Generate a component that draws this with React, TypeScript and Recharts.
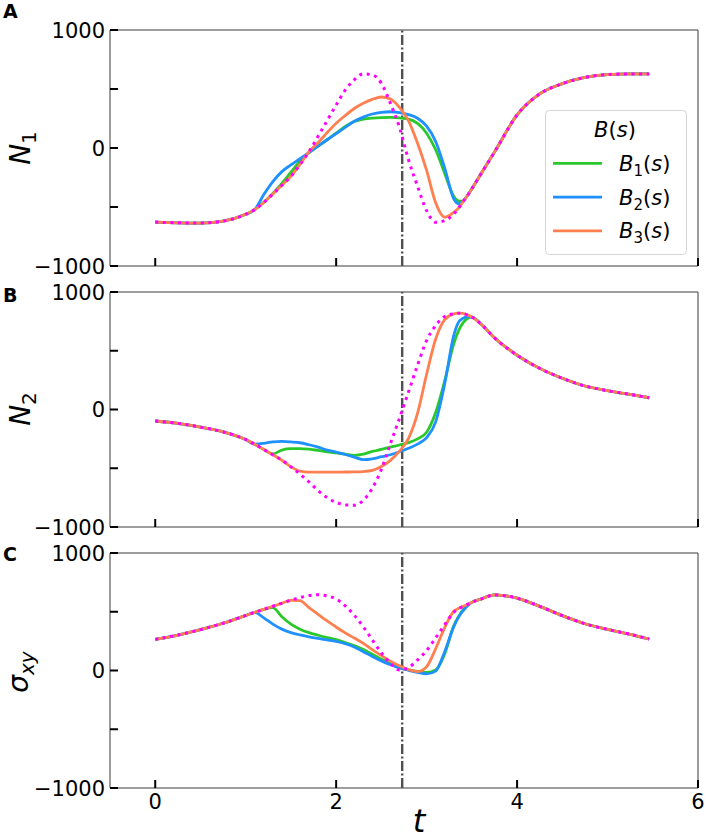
import React from 'react';
import { LineChart, Line, XAxis, YAxis, ReferenceLine, ReferenceArea, Legend } from 'recharts';

// time grid (shared by all panels)
const tGrid = [0, 0.25, 0.5, 0.75, 1.0, 1.1, 1.2, 1.3, 1.4, 1.5, 1.6, 1.7, 1.8, 1.9, 2.0, 2.1, 2.2, 2.3, 2.4, 2.5, 2.6, 2.7, 2.8, 2.9, 3.0, 3.1, 3.2, 3.3, 3.35, 3.4, 3.45, 3.5, 3.6, 3.75, 4.0, 4.25, 4.5, 4.75, 5.0, 5.25, 5.46];

// Panel A : N1
const n1Ref = [-628, -634, -636, -620, -562, -522, -462, -390, -316, -240, -140, -31, 99, 232, 365, 490, 578, 628, 620, 548, 378, 175, -100, -325, -531, -630, -615, -560, -512, -458, -405, -345, -220, -35, 280, 458, 545, 598, 622, 628, 628];
const n1B1 = [-628, -634, -636, -620, -562, -522, -460, -385, -300, -205, -112, -40, 15, 70, 125, 183, 225, 245, 254, 258, 259, 255, 245, 208, 125, -15, -215, -410, -448, -450, -405, -345, -220, -35, 280, 458, 545, 598, 622, 628, 628];
const n1B2 = [-628, -634, -636, -620, -562, -522, -395, -285, -200, -143, -91, -38, 15, 70, 122, 175, 226, 262, 288, 302, 307, 300, 283, 252, 185, 55, -170, -430, -472, -452, -405, -345, -220, -35, 280, 458, 545, 598, 622, 628, 628];
const n1B3 = [-628, -634, -636, -620, -562, -522, -462, -390, -316, -240, -140, -31, 45, 130, 210, 275, 335, 380, 412, 432, 415, 345, 230, 40, -190, -465, -587, -545, -512, -458, -405, -345, -220, -35, 280, 458, 545, 598, 622, 628, 628];

// Panel B : N2
const n2Ref = [-98, -118, -150, -190, -255, -295, -340, -385, -432, -488, -550, -617, -690, -750, -790, -812, -815, -773, -670, -510, -290, -75, 150, 378, 588, 715, 792, 815, 820, 818, 805, 787, 728, 610, 462, 350, 266, 200, 160, 128, 100];
const n2B1 = [-98, -118, -150, -190, -255, -295, -340, -378, -345, -333, -333, -338, -348, -360, -370, -380, -390, -380, -357, -340, -320, -302, -282, -250, -193, -25, 245, 559, 665, 735, 775, 787, 728, 610, 462, 350, 266, 200, 160, 128, 100];
const n2B2 = [-98, -118, -150, -190, -255, -295, -288, -275, -272, -276, -283, -300, -320, -345, -362, -383, -405, -427, -420, -402, -385, -360, -330, -295, -240, -105, 219, 630, 740, 775, 790, 787, 728, 610, 462, 350, 266, 200, 160, 128, 100];
const n2B3 = [-98, -118, -150, -190, -255, -295, -340, -385, -432, -488, -525, -533, -533, -533, -533, -532, -531, -528, -518, -485, -433, -355, -245, -30, 300, 600, 765, 814, 820, 818, 805, 787, 728, 610, 462, 350, 266, 200, 160, 128, 100];

// Panel C : sigma_xy
const sRef = [265, 302, 348, 402, 468, 495, 520, 547, 572, 598, 620, 638, 645, 635, 608, 550, 470, 373, 260, 150, 61, 5, 25, 90, 170, 277, 390, 495, 525, 545, 562, 580, 608, 643, 616, 546, 467, 398, 350, 308, 268];
const sB1 = [265, 302, 348, 402, 468, 495, 520, 535, 458, 395, 352, 322, 300, 280, 262, 237, 212, 178, 138, 95, 58, 25, 5, -8, -17, 5, 140, 380, 455, 515, 555, 580, 608, 643, 616, 546, 467, 398, 350, 308, 268];
const sB2 = [265, 302, 348, 402, 468, 495, 448, 395, 352, 323, 303, 287, 273, 260, 247, 228, 200, 160, 120, 82, 50, 21, 2, -15, -28, -5, 160, 373, 450, 505, 550, 580, 608, 643, 616, 546, 467, 398, 350, 308, 268];
const sB3 = [265, 302, 348, 402, 468, 495, 520, 547, 572, 598, 595, 535, 478, 422, 370, 320, 276, 231, 178, 127, 80, 40, 8, -10, 32, 185, 365, 505, 527, 545, 562, 580, 608, 643, 616, 546, 467, 398, 350, 308, 268];

const X_TICKS = [0, 2, 4, 6];
const Y_TICKS = [-1000, -500, 0, 500, 1000];
const Y_LABELED = [-1000, 0, 1000];
const T_MARK = 2.73;
const SERIES_NAMES = ['1', '2', '3'];

const C_B1 = '#2bc82b';
const C_B2 = '#1e90ff';
const C_B3 = '#ff7f50';
const C_REF = '#ff00ff';
const FONT = "'DejaVu Sans', sans-serif";

const makeRows = (b1: number[], b2: number[], b3: number[], ref: number[]) =>
  tGrid.map((t, i) => ({ t, b1: b1[i], b2: b2[i], b3: b3[i], ref: ref[i] }));

const rowsA = makeRows(n1B1, n1B2, n1B3, n1Ref);
const rowsB = makeRows(n2B1, n2B2, n2B3, n2Ref);
const rowsC = makeRows(sB1, sB2, sB3, sRef);

const fmt = (v: number) => (v < 0 ? '\u2212' + Math.abs(v) : String(v));

const XTick = (props: any) => {
  const { x, y, payload, showLabel } = props;
  return (
    <g>
      <line x1={x} x2={x} y1={y} y2={y - 8} stroke="#000" strokeWidth={2} />
      {showLabel ? (
        <text x={x} y={y + 21} textAnchor="middle" fontFamily={FONT} fontSize={21} fill="#000">
          {payload.value}
        </text>
      ) : null}
    </g>
  );
};

const YTick = (props: any) => {
  const { x, y, payload } = props;
  return (
    <g>
      <line x1={x} x2={x + 8} y1={y} y2={y} stroke="#000" strokeWidth={2} />
      {Y_LABELED.includes(payload.value) ? (
        <text x={x - 5} y={y + 7.5} textAnchor="end" fontFamily={FONT} fontSize={21} fill="#000">
          {fmt(payload.value)}
        </text>
      ) : null}
    </g>
  );
};

const YTitle = (props: any) => {
  const { sym, sub, cx, cy, letter, letterY } = props;
  return (
    <g>
      <text x={3} y={letterY} fontFamily={FONT} fontWeight="bold" fontSize={19} fill="#000">
        {letter}
      </text>
      <text x={cx} y={cy} transform={`rotate(-90 ${cx} ${cy})`} textAnchor="middle" fontFamily={FONT} fontSize={28} fill="#000">
        <tspan fontStyle="italic">{sym}</tspan>
        <tspan fontSize={20} dy={6} fontStyle={sub === 'xy' ? 'italic' : 'normal'}>{sub}</tspan>
      </text>
    </g>
  );
};

const XTitle = () => (
  <text x={419} y={292} textAnchor="middle" fontFamily={FONT} fontSize={32} fontStyle="italic" fill="#000">
    t
  </text>
);

const LegendBox = (props: any) => {
  const items = (props.payload || []).filter((p: any) => p.type !== 'none');
  return (
    <svg width={142} height={145} style={{ display: 'block' }}>
      <rect x={0.5} y={0.5} width={141} height={144} rx={4} fill="#fff" fillOpacity={0.85} stroke="#d4d4d4" />
      <text x={70} y={27} textAnchor="middle" fontFamily={FONT} fontSize={21} fill="#000">
        <tspan fontStyle="italic">B</tspan>(<tspan fontStyle="italic">s</tspan>)
      </text>
      {items.map((it: any, i: number) => {
        const ry = 53.3 + i * 33.8;
        return (
          <g key={i}>
            <line x1={8} x2={57} y1={ry} y2={ry} stroke={it.color} strokeWidth={2.8} />
            <text x={74} y={ry + 7.5} fontFamily={FONT} fontSize={21} fill="#000">
              <tspan fontStyle="italic">B</tspan>
              <tspan fontSize={15} dy={5}>{SERIES_NAMES[i]}</tspan>
              <tspan dy={-5}>(</tspan>
              <tspan fontStyle="italic">s</tspan>
              <tspan>)</tspan>
            </text>
          </g>
        );
      })}
    </svg>
  );
};

type PanelProps = {
  rows: any[];
  top: number;
  height: number;
  mTop: number;
  mBottom: number;
  showX: boolean;
  sym: string;
  sub: string;
  titleX: number;
  titleY: number;
  letter: string;
  letterY: number;
  legend?: boolean;
};

const Panel = (p: PanelProps) => (
  <div style={{ position: 'absolute', left: 0, top: p.top, width: 706, height: p.height }}>
    <LineChart width={706} height={p.height} data={p.rows} margin={{ top: p.mTop, right: 8, bottom: p.mBottom - 1, left: 109 }}>
      <XAxis
        dataKey="t"
        type="number"
        domain={[-0.5, 6]}
        ticks={X_TICKS}
        interval={0}
        allowDataOverflow
        height={1}
        axisLine={false}
        tickLine={false}
        tickSize={0}
        tickMargin={0}
        tick={(tp: any) => <XTick {...tp} showLabel={p.showX} />}
        label={p.showX ? <XTitle /> : undefined}
      />
      <YAxis
        type="number"
        domain={[-1000, 1000]}
        ticks={Y_TICKS}
        interval={0}
        allowDataOverflow
        width={1}
        axisLine={false}
        tickLine={false}
        tickSize={0}
        tickMargin={0}
        tick={(tp: any) => <YTick {...tp} />}
        label={<YTitle sym={p.sym} sub={p.sub} cx={p.titleX} cy={p.titleY} letter={p.letter} letterY={p.letterY} />}
      />
      <ReferenceArea x1={-0.5} x2={6} y1={-1000} y2={1000} fill="none" stroke="#3a3a3a" strokeWidth={1} />
      <ReferenceLine x={T_MARK} stroke="#505050" strokeWidth={2.4} strokeDasharray="10 2.6 1.8 2.6" />
      <Line type="monotone" dataKey="b1" name="B1(s)" stroke={C_B1} strokeWidth={2.8} dot={false} activeDot={false} isAnimationActive={false} />
      <Line type="monotone" dataKey="b2" name="B2(s)" stroke={C_B2} strokeWidth={2.8} dot={false} activeDot={false} isAnimationActive={false} />
      <Line type="monotone" dataKey="b3" name="B3(s)" stroke={C_B3} strokeWidth={2.8} dot={false} activeDot={false} isAnimationActive={false} />
      <Line type="monotone" dataKey="ref" name="ref" legendType="none" stroke={C_REF} strokeWidth={3} strokeDasharray="3 4.6" dot={false} activeDot={false} isAnimationActive={false} />
      {p.legend ? (
        <Legend
          layout="horizontal"
          verticalAlign="middle"
          align="center"
          content={(lp: any) => <LegendBox {...lp} />}
          wrapperStyle={{ left: 545, top: 110, width: 142, height: 145 }}
        />
      ) : null}
    </LineChart>
  </div>
);

export default function App() {
  return (
    <div style={{ position: 'absolute', left: 0, top: 0, width: 706, height: 839, background: '#fff' }}>
      <Panel rows={rowsA} top={0} height={280} mTop={30} mBottom={14} showX={false} sym="N" sub="1" titleX={30} titleY={148} letter="A" letterY={18} legend />
      <Panel rows={rowsB} top={280} height={260} mTop={12} mBottom={13} showX={false} sym="N" sub="2" titleX={30} titleY={129} letter="B" letterY={22} />
      <Panel rows={rowsC} top={540} height={299} mTop={13} mBottom={51} showX={true} sym="σ" sub="xy" titleX={28} titleY={132} letter="C" letterY={21} />
    </div>
  );
}
